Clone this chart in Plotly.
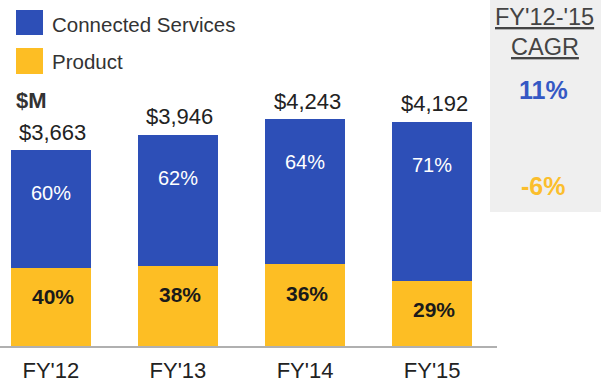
import plotly.graph_objects as go

years = ["FY'12", "FY'13", "FY'14", "FY'15"]
totals = [3663, 3946, 4243, 4192]
services_pct = [60, 62, 64, 71]
product_pct = [40, 38, 36, 29]
series_names = ["Connected Services", "Product"]
cagr_period = "FY'12-'15"
cagr_label = "CAGR"
cagr_values = ["11%", "-6%"]
unit_label = "$M"

BLUE = "#2D4FB7"
ORANGE = "#FDBE24"
FONT = "Liberation Sans, Arial, Helvetica, sans-serif"
W, H = 601, 388

product_vals = [t * p / 100 for t, p in zip(totals, product_pct)]
services_vals = [t - p for t, p in zip(totals, product_vals)]

fig = go.Figure()
fig.add_trace(go.Bar(x=years, y=product_vals, name=series_names[1],
                     marker=dict(color=ORANGE, line=dict(width=0)), width=0.63,
                     hoverinfo="skip"))
fig.add_trace(go.Bar(x=years, y=services_vals, name=series_names[0],
                     marker=dict(color=BLUE, line=dict(width=0)), width=0.63,
                     hoverinfo="skip"))

ann = []
for yr, t, sp, pp, pv in zip(years, totals, services_pct, product_pct, product_vals):
    ann.append(dict(x=yr, y=t, xref="x", yref="y", text=f"${t:,}", showarrow=False,
                    yanchor="middle", yshift=18, xshift=2,
                    font=dict(family=FONT, size=22, color="#222")))
    ann.append(dict(x=yr, y=t, xref="x", yref="y", text=f"{sp}%", showarrow=False,
                    yanchor="middle", yshift=-43,
                    font=dict(family=FONT, size=20, color="white")))
    ann.append(dict(x=yr, y=pv, xref="x", yref="y", text=f"<b>{pp}%</b>", showarrow=False,
                    yanchor="middle", yshift=-29, xshift=2,
                    font=dict(family=FONT, size=21, color="#1a1a1a")))

def px(x):
    return x / W

def py(y):
    return 1 - y / H

# legend text
ann.append(dict(x=px(50), y=py(24), xref="paper", yref="paper", text=series_names[0],
                showarrow=False, xanchor="left", yanchor="middle",
                font=dict(family=FONT, size=20.5, color="#333")))
ann.append(dict(x=px(50), y=py(62), xref="paper", yref="paper", text=series_names[1],
                showarrow=False, xanchor="left", yanchor="middle",
                font=dict(family=FONT, size=20.5, color="#333")))
ann.append(dict(x=px(14), y=py(101), xref="paper", yref="paper", text=f"<b>{unit_label}</b>",
                showarrow=False, xanchor="left", yanchor="middle",
                font=dict(family=FONT, size=22, color="#333")))
# CAGR panel
ann.append(dict(x=px(544), y=py(17), xref="paper", yref="paper", text=f"<u>{cagr_period}</u>",
                showarrow=False, xanchor="center", yanchor="middle",
                font=dict(family=FONT, size=23.5, color="#444")))
ann.append(dict(x=px(545), y=py(47), xref="paper", yref="paper", text=f"<u>{cagr_label}</u>",
                showarrow=False, xanchor="center", yanchor="middle",
                font=dict(family=FONT, size=23.5, color="#444")))
ann.append(dict(x=px(543), y=py(90), xref="paper", yref="paper", text=f"<b>{cagr_values[0]}</b>",
                showarrow=False, xanchor="center", yanchor="middle",
                font=dict(family=FONT, size=25, color="#3558C4")))
ann.append(dict(x=px(543), y=py(186), xref="paper", yref="paper", text=f"<b>{cagr_values[1]}</b>",
                showarrow=False, xanchor="center", yanchor="middle",
                font=dict(family=FONT, size=25, color="#FBBE2C")))

shapes = [
    dict(type="rect", xref="paper", yref="paper", x0=px(490), x1=1, y0=py(212), y1=1,
         fillcolor="#EFEFEF", line=dict(width=0), layer="below"),
    dict(type="rect", xref="paper", yref="paper", x0=px(16), x1=px(43), y0=py(35), y1=py(10),
         fillcolor=BLUE, line=dict(width=0)),
    dict(type="rect", xref="paper", yref="paper", x0=px(16), x1=px(43), y0=py(74), y1=py(48),
         fillcolor=ORANGE, line=dict(width=0)),
]

baseline = 346
fig.update_layout(
    width=W, height=H,
    margin=dict(l=0, r=0, t=0, b=0, autoexpand=False),
    paper_bgcolor="white", plot_bgcolor="white",
    barmode="stack", showlegend=False,
    annotations=ann, shapes=shapes,
    xaxis=dict(domain=[0, 497 / W], range=[-0.4, 3.51], showgrid=False, zeroline=False,
               showline=True, linecolor="#B0B0B0", linewidth=1.5, ticks="",
               ticklabelstandoff=4, automargin=False,
               tickfont=dict(family=FONT, size=22, color="#222")),
    yaxis=dict(domain=[(H - baseline) / H, 1], range=[0, baseline / 0.0535],
               showgrid=False, zeroline=False, showticklabels=False, showline=False,
               automargin=False),
)

fig.write_html("out.html", config={"displayModeBar": False},
               post_script="document.body.style.margin='0';document.body.style.overflow='hidden';")
